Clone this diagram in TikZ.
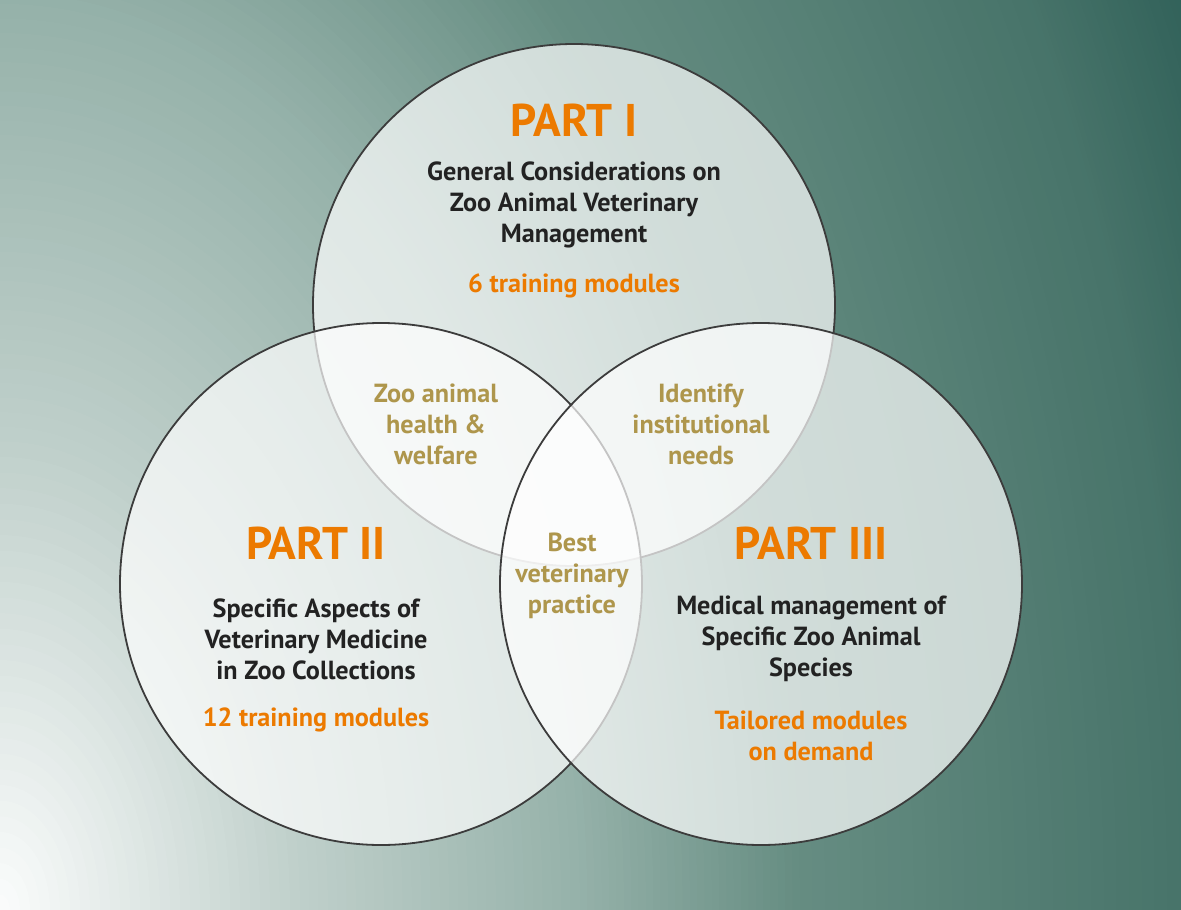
\documentclass[tikz,border=0pt]{standalone}
\usepackage{fontspec}
\setmainfont{PT Sans}
\definecolor{bg0}{RGB}{252,253,253}
\definecolor{bg1}{RGB}{192,208,203}
\definecolor{bg2}{RGB}{150,178,170}
\definecolor{bg3}{RGB}{102,141,130}
\definecolor{bg4}{RGB}{72,116,106}
\definecolor{bg5}{RGB}{50,98,90}
\definecolor{orangetxt}{RGB}{236,122,0}
\definecolor{goldtxt}{RGB}{174,150,76}
\definecolor{darktxt}{RGB}{34,34,34}
\definecolor{ringline}{RGB}{60,60,60}
\tikzset{
  venn/.style={draw=ringline, line width=1.8bp, fill=white, fill opacity=0.7},
  parttitle/.style={text=orangetxt, font=\bfseries\fontsize{46}{52}\selectfont, inner sep=0pt},
  desc/.style={text=darktxt, font=\bfseries\fontsize{26.3}{31}\selectfont, align=center, inner sep=0pt},
  modtxt/.style={text=orangetxt, font=\bfseries\fontsize{26.3}{31}\selectfont, align=center, inner sep=0pt},
  overlaptxt/.style={text=goldtxt, font=\bfseries\fontsize{26.3}{31}\selectfont, align=center, inner sep=0pt}
}
\begin{document}
\begin{tikzpicture}[x=1bp,y=-1bp]
\useasboundingbox (0,0) rectangle (1181,910);
\begin{scope}
\clip (0,0) rectangle (1181,910);
\fill[bg5] (0,0) rectangle (1181,910);
\foreach \ra/\rb/\ca/\cb in {1320/1180/bg5/bg4, 1180/800/bg4/bg3, 800/580/bg3/bg2, 580/300/bg2/bg1, 300/0/bg1/bg0}{
  \foreach \j in {0,...,29}{
    \pgfmathsetmacro\r{\rb + (\ra-\rb)*(1-\j/30)}
    \pgfmathsetmacro\ry{1.5625*\r}
    \pgfmathsetmacro\p{100*(1-\j/30)}
    \colorlet{tmpc}{\ca!\p!\cb}
    \fill[tmpc] (0,910) ellipse[x radius=\r, y radius=\ry];
  }
}
\end{scope}
% circles
\draw[venn] (574,305) circle[radius=261];
\draw[venn] (381,584) circle[radius=261];
\draw[venn] (761,584) circle[radius=261];
% Part I
\node[parttitle] (p1) at (574,120) {PART I};
\node[desc] (d1) at (574,205) {General Considerations on\\Zoo Animal Veterinary\\Management};
\node[modtxt] (m1) at (574,286) {6 training modules};
% Part II
\node[parttitle] (p2) at (316,543) {PART II};
\node[desc] (d2) at (316,639) {Specific Aspects of\\Veterinary Medicine\\in Zoo Collections};
\node[modtxt] (m2) at (316,720) {12 training modules};
% Part III
\node[parttitle] (p3) at (811,543) {PART III};
\node[desc] (d3) at (811,639) {Medical management of\\Specific Zoo Animal\\Species};
\node[modtxt] (m3) at (811,735.5) {Tailored modules\\on demand};
% overlaps
\node[overlaptxt] (o12) at (436,424) {Zoo animal\\health \&\\welfare};
\node[overlaptxt] (o13) at (701,424) {Identify\\institutional\\needs};
\node[overlaptxt] (o123) at (572,576) {Best\\veterinary\\practice};
\end{tikzpicture}
\end{document}
